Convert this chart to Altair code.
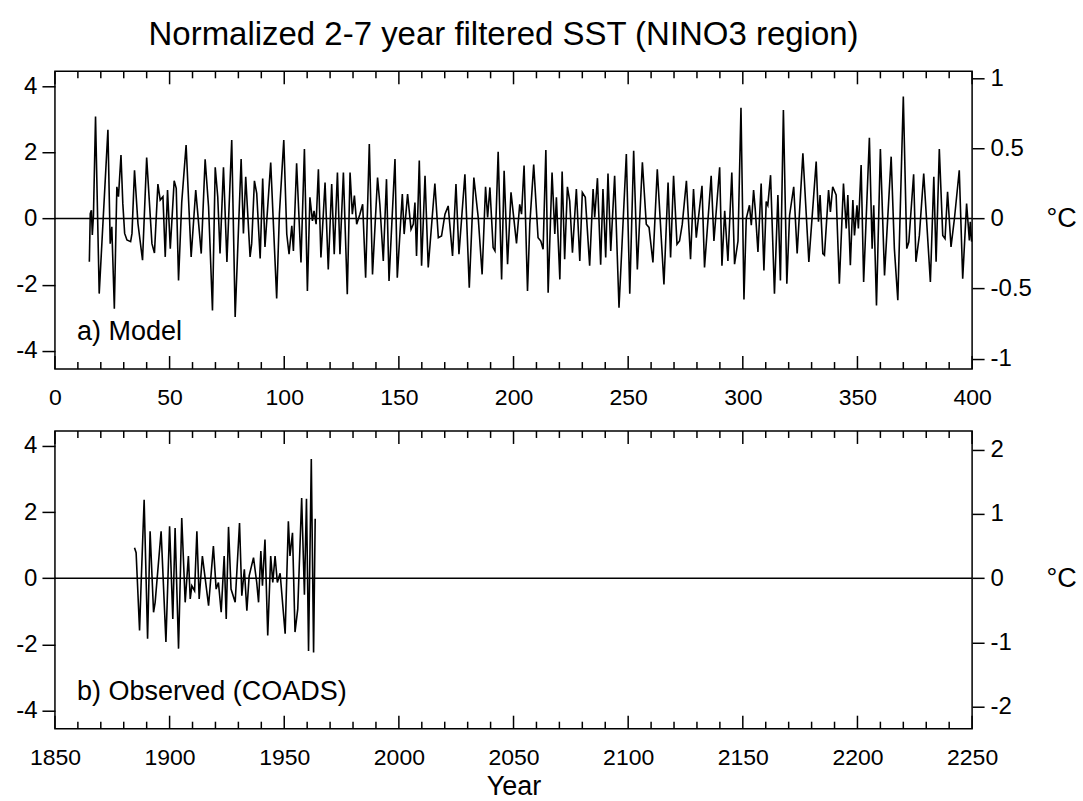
import altair as alt
import pandas as pd

# ---------------- data ----------------
model_year = [
    15.0, 15.4, 15.9, 16.3, 16.8, 17.7, 19.3, 23.1, 24.1, 24.8, 25.9, 27.0, 27.7, 28.8, 29.6,
    30.4, 31.4, 33.0, 33.6, 34.7, 36.2, 38.2, 40.0, 42.3, 43.4, 44.9, 45.9, 47.1, 48.1, 49.1,
    50.3, 52.0, 52.9, 53.9, 55.3, 57.2, 59.4, 61.4, 63.8, 65.5, 67.0, 68.7, 69.9, 71.0, 72.0,
    73.5, 75.0, 77.1, 78.6, 81.2, 82.2, 83.2, 85.1, 85.8, 87.0, 88.0, 89.5, 90.6, 91.6, 94.1,
    96.7, 97.9, 99.8, 101.1, 102.1, 103.3, 104.0, 105.4, 107.3, 108.8, 110.1, 111.2, 112.3,
    113.0, 113.9, 114.9, 116.0, 117.8, 119.2, 120.7, 121.8, 123.2, 124.3, 125.8, 127.5, 128.7,
    129.7, 130.6, 131.6, 133.0, 134.2, 135.5, 137.1, 138.5, 140.7, 141.7, 143.2, 144.6, 145.7,
    148.3, 149.3, 151.5, 152.3, 153.8, 155.3, 156.3, 157.0, 157.7, 158.9, 159.9, 161.4, 162.8,
    165.7, 167.2, 168.6, 170.1, 171.5, 173.4, 174.9, 176.2, 178.8, 180.7, 182.7, 184.6, 186.3,
    187.8, 188.7, 189.7, 191.1, 191.9, 193.3, 194.8, 195.9, 197.4, 198.9, 201.3, 202.7, 203.5,
    204.6, 206.1, 207.1, 208.8, 210.7, 211.9, 212.9, 214.1, 215.1, 216.8, 218.0, 218.7, 220.2,
    221.2, 222.3, 223.5, 224.5, 225.7, 227.4, 228.9, 230.0, 231.3, 233.2, 234.7, 235.4, 236.6,
    238.0, 239.0, 240.2, 241.2, 242.4, 244.1, 246.0, 249.2, 250.7, 252.4, 254.0, 256.2, 257.9,
    259.1, 260.8, 262.7, 265.6, 267.4, 268.5, 269.8, 271.3, 272.4, 273.6, 275.4, 277.2, 278.5,
    279.7, 282.2, 283.3, 286.2, 287.4, 289.9, 290.9, 292.1, 293.5, 295.2, 296.4, 297.9, 299.2,
    300.5, 301.5, 302.9, 303.7, 304.7, 305.4, 306.6, 308.0, 309.2, 310.2, 310.9, 312.1, 313.8,
    315.3, 316.4, 317.7, 319.2, 320.4, 322.2, 323.7, 326.2, 328.8, 332.0, 333.0, 333.7, 334.9,
    335.6, 337.4, 338.2, 339.2, 340.7, 342.1, 343.9, 345.1, 345.8, 346.9, 348.0, 348.7, 349.8,
    350.4, 351.6, 352.7, 355.2, 356.4, 357.1, 358.3, 360.0, 361.8, 364.7, 366.1, 367.6, 370.0,
    371.5, 372.4, 374.5, 375.5, 377.0, 378.9, 381.8, 383.3, 384.3, 385.7, 387.2, 388.2, 389.3,
    390.8, 392.3, 394.4, 395.9, 397.6, 398.8, 399.2, 399.8,
]
model_value = [
    -1.31, 0.15, 0.25, -0.50, 0.10, 3.08, -2.27, 2.68, -0.76, -0.25, -2.73, 0.96, 0.66, 1.92, 0.45,
    -0.45, -0.65, -0.70, -0.45, 1.46, -0.15, -1.26, 1.84, -0.76, -1.04, 1.04, 0.56, 0.66, -1.16, 0.86,
    -0.91, 1.14, 0.91, -1.87, 0.50, 2.22, -1.16, 0.86, -1.06, 1.79, 0.35, -2.78, 1.55, 0.66, -1.06,
    1.55, -1.31, 2.37, -2.98, 1.80, -0.45, 1.26, -1.16, -0.76, 1.14, 0.76, -1.21, 1.21, -0.86, 1.69,
    -2.42, 0.15, 2.37, -0.47, -1.08, -0.22, -0.98, 1.67, -1.33, 2.10, -2.19, 0.64, -0.07,
    0.23, -0.17, 1.49, -1.18, 1.09, -1.54, 1.04, -1.08, 1.39, -1.08, 1.39, -2.29, 1.39,
    0.13, 0.69, -0.17, 0.13, 0.43, -1.79, 2.25, -1.69, 1.24, 0.43, -1.28, 1.19, -1.89,
    1.80, -1.79, 0.74, -0.47, 0.74, -0.33, -0.17, 0.48, -1.13, 1.75, -1.43, 1.29, -1.48,
    1.06, -0.58, -0.53, 0.13, 0.38, -1.13, 1.04, -1.08, 1.34, -2.09, 1.24, 0.03, -1.69,
    0.96, 0.03, 0.94, -0.88, -0.98, 2.02, -1.84, 1.44, -1.38, 0.79, -0.75, 0.43, 0.13,
    1.60, -2.19, -0.17, 1.63, -0.58, -0.68, -0.93, 2.07, -2.24, 1.39, -0.47, 0.64, -1.84,
    1.42, -1.23, 0.96, 0.53, -1.03, 0.89, -1.28, 0.79, 0.64, -1.43, 0.89, 0.03, 1.22,
    -1.40, 0.89, -1.18, 1.36, -0.98, 1.29, -2.70, 1.95, -2.27, 2.05, -1.54, 1.70, -0.17,
    -0.27, -1.33, 1.49, -1.99, 1.09, -1.18, 1.29, -0.78, -0.68, -0.17, 1.14, -1.23, 0.89,
    -0.58, 0.99, -1.48, 1.29, -0.68, 1.55, -1.43, 0.23, -1.28, 1.39, -1.38, -0.68, 3.35,
    -2.45, 0.00, 0.40, -0.20, 0.86, 0.30, -1.01, 1.06, -1.57, 0.51, 0.40, 1.31, -2.27,
    0.71, -1.87, 3.28, -1.97, 0.10, 0.96, -1.06, 1.97, -1.31, 1.72, -0.10, 0.71, -1.06,
    -1.11, 0.86, 0.20, 0.96, 0.71, -1.97, 1.06, -0.30, 0.71, -1.41, 0.56, -0.51, 0.40,
    -0.30, 1.62, -1.92, 2.44, -0.91, 0.40, -2.63, 2.10, -1.72, 1.87, -0.91, -2.47, 3.69,
    -0.91, -0.71, 1.34, -1.31, -0.51, 1.36, -1.92, 1.26, -1.31, 2.10, -0.51, -0.61, 0.81,
    -0.86, 0.00, 1.46, -1.82, 0.45, -0.66, -0.10, -0.70,
]

obs_year = [
    1884.7, 1885.4, 1886.9, 1887.6, 1888.9, 1890.4, 1891.5, 1893.0, 1893.7, 1896.3, 1898.4,
    1900.0, 1901.4, 1902.4, 1903.9, 1905.3, 1906.8, 1908.2, 1909.0, 1909.7, 1910.9, 1911.9,
    1912.9, 1914.3, 1917.0, 1919.1, 1920.3, 1921.3, 1922.5, 1923.8, 1924.7, 1925.7, 1926.8,
    1928.6, 1930.5, 1931.5, 1932.6, 1933.7, 1934.7, 1936.6, 1938.0, 1938.8, 1939.8, 1940.5,
    1941.6, 1942.8, 1944.1, 1945.0, 1946.0, 1947.0, 1948.2, 1950.4, 1951.8, 1952.5, 1953.6,
    1954.7, 1955.9, 1957.6, 1958.8, 1959.7, 1960.6, 1961.8, 1962.8, 1963.5,
]
obs_value = [
    0.92, 0.77, -1.58, -0.13, 2.37, -1.83, 1.42, -1.03, -0.73, 1.42, -1.93,
    1.57, -1.23, 1.52, -2.13, 1.82, -0.73, 0.67, -0.63, -0.23, -0.38, 1.42,
    -0.63, 0.67, -0.83, 0.97, -0.33, -0.13, -1.03, 0.67, -1.23, 1.55, -0.33,
    -0.73, 1.67, -0.53, 0.27, -0.98, 0.07, 0.62, -0.13, -0.73, 0.82, -0.23,
    1.17, -1.73, 0.67, -0.13, 0.67, -0.13, 0.15, -1.68, 1.72, 0.67, 1.37,
    -1.63, -0.93, 2.42, -0.50, 2.40, -2.20, 3.60, -2.25, 1.80,
]

# standard deviations (deg C) linking the normalized scale to the right axis
SIGMA_MODEL = 0.236
SIGMA_OBS = 0.515

model_xlabels = [0, 50, 100, 150, 200, 250, 300, 350, 400]
obs_xlabels = [1850, 1900, 1950, 2000, 2050, 2100, 2150, 2200, 2250]
left_ticks = [-4, -3, -2, -1, 0, 1, 2, 3, 4]
model_right_ticks = [-1, -0.5, 0, 0.5, 1]
obs_right_ticks = [-2, -1, 0, 1, 2]

TITLE = "Normalized 2-7 year filtered SST (NINO3 region)"

# ---------------- styling ----------------
FONT = "Liberation Sans"
XFONT = "Liberation Sans Narrow, Liberation Sans"
W, H = 918, 298
YDOM = [-4.55, 4.45]
MINUS_FIX = "replace(datum.label, '\u2212', '-')"


def panel(df, xdom, xlabels, sigma, cticks, label, label_x, xtitle):
    x_axis = alt.Axis(
        values=xlabels, ticks=False, tickSize=0, domain=False, grid=False,
        labelFont=XFONT, labelFontSize=23, labelPadding=18, labelColor="black",
        labelFlush=False, labelOverlap=False,
        format="d", title=xtitle, titleFont=XFONT, titleFontSize=27,
        titleFontWeight="normal", titlePadding=4, titleColor="black",
    )
    xs = alt.Scale(domain=xdom, nice=False, zero=False)
    x = alt.X("year:Q", scale=xs, axis=x_axis)
    y_axis = alt.Axis(
        orient="left", values=left_ticks, grid=False, domain=False,
        labelExpr="datum.value % 2 == 0 ? " + MINUS_FIX + " : ''",
        tickSize={"condition": {"test": "datum.value % 2 == 0", "value": 13}, "value": 7},
        tickColor="black", tickWidth=1.5, labelFont=FONT, labelFontSize=24,
        labelPadding=5, labelColor="black", labelFlush=False, title=None,
    )
    ys = alt.Scale(domain=YDOM, nice=False, zero=False)

    line = alt.Chart(df).mark_line(color="black", strokeWidth=1.6).encode(
        x=x, y=alt.Y("value:Q", scale=ys, axis=y_axis)
    )
    txt = alt.Chart(pd.DataFrame({"label": [label]})).mark_text(
        align="left", baseline="alphabetic", font=FONT, fontSize=27, color="black"
    ).encode(x=alt.datum(label_x), y=alt.datum(-3.67), text="label:N")

    lo, hi = xdom
    minor = pd.DataFrame({"year": [v for v in range(lo, hi + 1, 10) if (v - lo) % 50 != 0]})
    major = pd.DataFrame({"year": [v for v in range(lo, hi + 1, 50)]})
    ticks = []
    for d, ln in ((minor, 7), (major, 13)):
        ticks.append(alt.Chart(d).mark_rule(color="black", strokeWidth=1.5).encode(
            x=x, y=alt.value(0), y2=alt.value(ln)))
        ticks.append(alt.Chart(d).mark_rule(color="black", strokeWidth=1.5).encode(
            x=x, y=alt.value(H), y2=alt.value(H - ln)))

    inner = alt.layer(line, txt, *ticks)

    cdom = [YDOM[0] * sigma, YDOM[1] * sigma]
    zero_scale_axis = alt.Axis(
        orient="right", values=cticks, grid=False, domain=False, format="~g",
        labelExpr=MINUS_FIX, tickSize=12, tickColor="black", tickWidth=1.5,
        labelFont=FONT, labelFontSize=24, labelPadding=6, labelColor="black",
        labelFlush=False,
        title="°C", titleAngle=0, titleX=74, titleY=(YDOM[1]) / (YDOM[1] - YDOM[0]) * H,
        titleAlign="left", titleBaseline="middle", titleFont=FONT, titleFontSize=27,
        titleFontWeight="normal", titleColor="black",
    )
    zero = alt.Chart(pd.DataFrame({"c": [0.0]})).mark_rule(color="black", strokeWidth=1.5).encode(
        y=alt.Y("c:Q", scale=alt.Scale(domain=cdom, nice=False, zero=False), axis=zero_scale_axis)
    )
    return alt.layer(inner, zero).resolve_scale(y="independent").properties(width=W, height=H)


model_df = pd.DataFrame({"year": model_year, "value": model_value})
obs_df = pd.DataFrame({"year": obs_year, "value": obs_value})

top = panel(model_df, [0, 400], model_xlabels, SIGMA_MODEL, model_right_ticks, "a) Model", 9.6, None)
bottom = panel(obs_df, [1850, 2250], obs_xlabels, SIGMA_OBS, obs_right_ticks,
               "b) Observed (COADS)", 1859.6, "Year")

chart = alt.vconcat(top, bottom, spacing=62, bounds="flush").properties(
    title=alt.TitleParams(TITLE, font=FONT, fontSize=33, fontWeight="normal", color="black",
                          anchor="middle", frame="group", dx=-10, offset=14),
    padding={"left": 14, "top": 18, "right": 5, "bottom": 2},
).configure(font=FONT, background="white").configure_view(stroke="black", strokeWidth=1.5)

chart.save("out.html", embed_options={"renderer": "svg", "actions": False})
